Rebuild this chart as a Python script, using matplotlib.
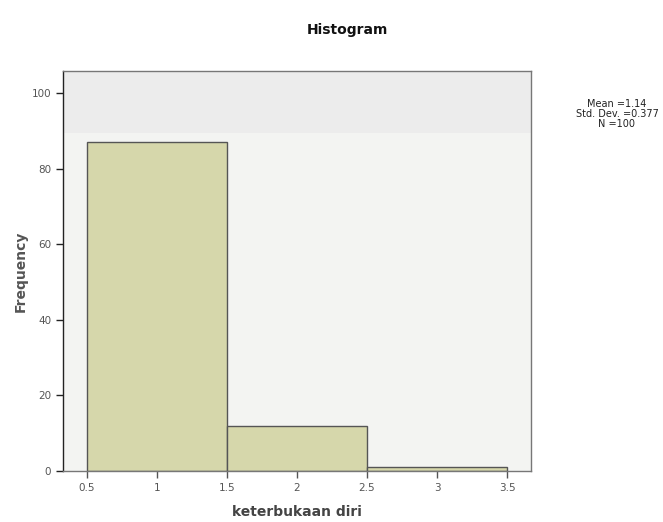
import matplotlib
matplotlib.use("Agg")
import matplotlib.pyplot as plt

bin_edges = [0.5, 1.5, 2.5, 3.5]
frequencies = [87, 12, 1]
x_ticks = [0.5, 1, 1.5, 2, 2.5, 3, 3.5]
x_tick_labels = ["0.5", "1", "1.5", "2", "2.5", "3", "3.5"]
y_ticks = [0, 20, 40, 60, 80, 100]
stats_lines = ["Mean =1.14", "Std. Dev. =0.377", "N =100"]

fig = plt.figure(figsize=(6.63, 5.22), dpi=100)
ax = fig.add_axes([0.095, 0.0977, 0.706, 0.767])
ax.set_xlim(0.331, 3.671)
ax.set_ylim(0, 106)

ax.set_facecolor("#f3f4f2")
ax.axhspan(89.5, 106, color="#ececec", zorder=0, lw=0)

widths = [bin_edges[i + 1] - bin_edges[i] for i in range(len(frequencies))]
ax.bar(bin_edges[:-1], frequencies, width=widths, align="edge",
       color="#d6d7ab", edgecolor="#555555", linewidth=1.0, zorder=2)

ax.set_xticks(x_ticks)
ax.set_xticklabels(x_tick_labels)
ax.set_yticks(y_ticks)
ax.tick_params(axis="both", direction="out", length=5, width=1,
               labelsize=7.5, labelcolor="#555555", color="#555555")
ax.tick_params(axis="y", color="#222222")
for s in ax.spines.values():
    s.set_color("#777777")
    s.set_linewidth(1)
ax.spines["left"].set_color("#222222")

ax.set_ylabel("Frequency", fontsize=10, fontweight="bold", color="#555555", labelpad=3)
ax.set_xlabel("keterbukaan diri", fontsize=10, fontweight="bold", color="#444444", labelpad=9)

fig.text(347 / 663, 1 - 30 / 522, "Histogram", ha="center", va="center",
         fontsize=10, fontweight="bold", color="#111111")
fig.text(617 / 663, 1 - 114 / 522, "\n".join(stats_lines), ha="center", va="center",
         fontsize=7, color="#222222", linespacing=0.95)

fig.savefig("out.png", dpi=100)
